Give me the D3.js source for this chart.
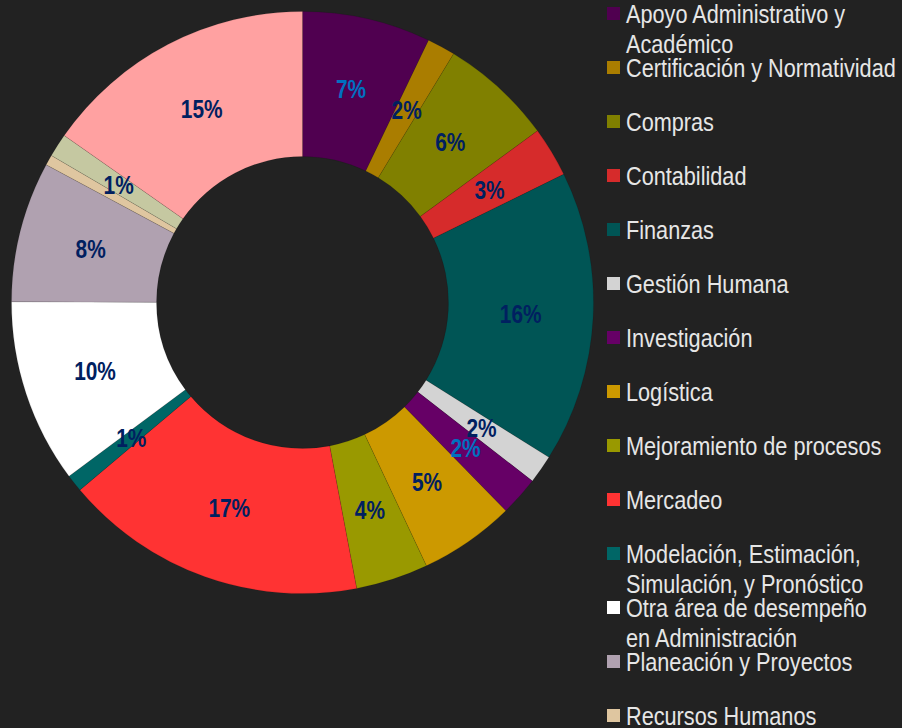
<!DOCTYPE html>
<meta charset="utf-8">
<style>
	body {
		margin: 0;
		background: #222222;
		overflow: hidden;
	}

	.legend text {
		font-family: "Liberation Sans", Arial, sans-serif;
		font-size: 26px;
		fill: #e6e6e6;
	}

	.labels text {
		font-family: "Liberation Sans", Arial, sans-serif;
		font-size: 25px;
		font-weight: bold;
	}
</style>
<script src="https://cdn.jsdelivr.net/npm/d3@7"></script>

<body>
	<div id="chart"></div>

	<script>
		// categorias (las dos ultimas quedan fuera del cuadro de la leyenda)
		let categories = [
			"Apoyo Administrativo y|Académico",
			"Certificación y Normatividad",
			"Compras",
			"Contabilidad",
			"Finanzas",
			"Gestión Humana",
			"Investigación",
			"Logística",
			"Mejoramiento de procesos",
			"Mercadeo",
			"Modelación, Estimación,|Simulación, y Pronóstico",
			"Otra área de desempeño|en Administración",
			"Planeación y Proyectos",
			"Recursos Humanos",
			"Sistemas",
			"Ventas"
		];

		// porcentajes
		let values = [7.13, 1.56, 6.27, 2.78, 16.19, 1.58, 2.18, 5.31, 4.02, 16.84, 0.96, 10.22, 7.81, 0.58, 1.30, 15.27];

		let colors = ["#500050", "#aa7d00", "#808000", "#d62b2b", "#005555", "#d3d3d3", "#660066", "#cc9900",
			"#999900", "#ff3333", "#006666", "#ffffff", "#b0a1b0", "#dfc6a0", "#c5c8a1", "#ffa1a1"];

		// etiquetas que se muestran y su color
		let showLabel = [1, 1, 1, 1, 1, 1, 1, 1, 1, 1, 1, 1, 1, 0, 1, 1];
		let labelColors = ["#0070c0", "#002060", "#002060", "#002060", "#002060", "#002060", "#0070c0", "#002060",
			"#002060", "#002060", "#002060", "#002060", "#002060", "#002060", "#002060", "#002060"];

		let width = 902,
			height = 728;

		let cx = 302.5, cy = 302.5,
			outerR = 291, innerR = 146;

		// el texto original es condensado (tipo Arial Narrow)
		let narrow = 0.834;
		let rowH = 54, row0 = 23;

		let svg = d3.select("#chart")
			.append("svg")
			.attr("width", width)
			.attr("height", height);

		let data = categories.map((c, i) => ({ name: c, value: values[i], i: i }));

		let pie = d3.pie()
			.sort(null)
			.value(d => d.value);

		let arc = d3.arc()
			.innerRadius(innerR)
			.outerRadius(outerR);

		let g = svg.append("g")
			.attr("transform", "translate(" + cx + "," + cy + ")");

		let arcs = pie(data);

		g.selectAll("path")
			.data(arcs)
			.join("path")
			.attr("d", arc)
			.attr("fill", d => colors[d.data.i])
			.attr("stroke", "rgba(0,0,0,0.25)")
			.attr("stroke-width", 0.4);

		g.append("g")
			.attr("class", "labels")
			.selectAll("text")
			.data(arcs.filter(d => showLabel[d.data.i]))
			.join("text")
			.attr("transform", d => "translate(" + arc.centroid(d) + ") scale(" + narrow + ",1)")
			.attr("text-anchor", "middle")
			.attr("dy", "0.36em")
			.attr("fill", d => labelColors[d.data.i])
			.text(d => Math.round(d.data.value) + "%");

		// leyenda (solo caben las filas que entran en el cuadro)
		let legend = svg.append("g")
			.attr("class", "legend");

		let item = legend.selectAll("g")
			.data(data.filter(d => row0 + d.i * rowH < height))
			.join("g")
			.attr("transform", d => "translate(607," + (row0 + d.i * rowH) + ")");

		item.append("rect")
			.attr("x", 0)
			.attr("y", -16)
			.attr("width", 13)
			.attr("height", 13)
			.attr("fill", d => colors[d.i]);

		item.append("text")
			.attr("transform", "translate(19,0) scale(" + narrow + ",1)")
			.selectAll("tspan")
			.data(d => d.name.split("|"))
			.join("tspan")
			.attr("x", 0)
			.attr("dy", (t, j) => j == 0 ? 0 : 30)
			.text(t => t);
	</script>
</body>
